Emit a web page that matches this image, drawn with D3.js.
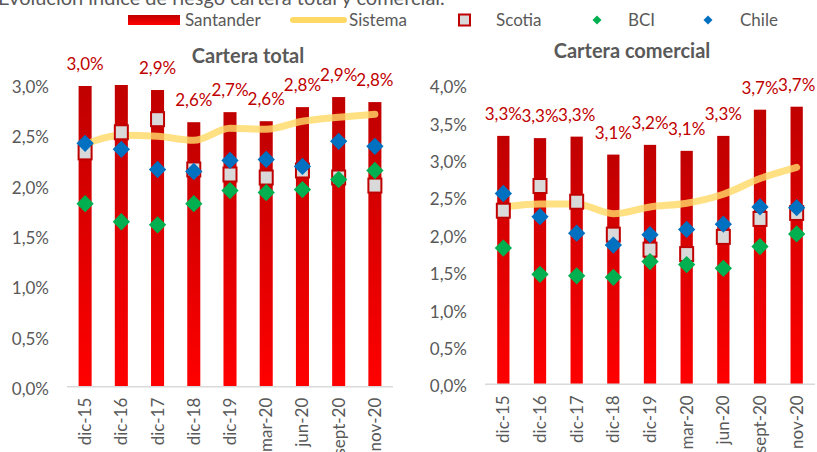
<!DOCTYPE html>
<html><head><meta charset="utf-8">
<script src="https://cdn.jsdelivr.net/npm/d3@7/dist/d3.min.js"></script>
<style>body{margin:0;background:#fff}svg{display:block}</style>
</head><body>
<svg id="c" width="817" height="452"></svg>
<script>
const categories = ["dic-15","dic-16","dic-17","dic-18","dic-19","mar-20","jun-20","sept-20","nov-20"];
// Cartera total (%)
const totalSantander = [2.99,3.00,2.95,2.63,2.73,2.64,2.78,2.88,2.83];
const totalSantanderLabels = ["3,0%","","2,9%","2,6%","2,7%","2,6%","2,8%","2,9%","2,8%"];
const totalSistema = [2.41,2.50,2.49,2.45,2.57,2.56,2.64,2.68,2.71];
const totalScotia = [2.33,2.53,2.66,2.16,2.11,2.08,2.15,2.08,2.00];
const totalBCI = [1.82,1.64,1.61,1.82,1.95,1.93,1.96,2.06,2.15];
const totalChile = [2.42,2.36,2.16,2.14,2.25,2.26,2.19,2.44,2.39];
const totalTicks = [0,0.5,1.0,1.5,2.0,2.5,3.0];
// Cartera comercial (%)
const comSantander = [3.32,3.29,3.31,3.07,3.20,3.12,3.32,3.67,3.71];
const comSantanderLabels = ["3,3%","3,3%","3,3%","3,1%","3,2%","3,1%","3,3%","3,7%","3,7%"];
const comSistema = [2.37,2.41,2.41,2.28,2.37,2.42,2.54,2.75,2.90];
const comScotia = [2.32,2.65,2.44,2.00,1.80,1.74,1.97,2.21,2.29];
const comBCI = [1.82,1.47,1.45,1.43,1.64,1.60,1.55,1.84,2.01];
const comChile = [2.55,2.24,2.02,1.86,2.00,2.07,2.14,2.37,2.36];
const comTicks = [0,0.5,1.0,1.5,2.0,2.5,3.0,3.5,4.0];

const FONT = "Lato, 'Open Sans', sans-serif";
const GREY = "#595959";
const svg = d3.select("#c").style("font-family", FONT);

const defs = svg.append("defs");
const g1 = defs.append("linearGradient").attr("id","barGrad").attr("x1",0).attr("y1",0).attr("x2",0).attr("y2",1);
g1.append("stop").attr("offset","0%").attr("stop-color","#C00000");
g1.append("stop").attr("offset","100%").attr("stop-color","#FF0000");

// page title (cut off at the top, as in the source)
svg.append("text").attr("x",-2).attr("y",5).attr("font-size",20).attr("fill",GREY)
  .text("Evolución índice de riesgo cartera total y comercial.");

// legend
const lg = svg.append("g").attr("font-size",17).attr("fill",GREY);
lg.append("rect").attr("x",128).attr("y",15).attr("width",52).attr("height",10).attr("fill","url(#barGrad)");
lg.append("text").attr("x",185).attr("y",20).attr("dy","0.35em").text("Santander");
lg.append("line").attr("x1",293).attr("x2",344).attr("y1",20).attr("y2",20)
  .attr("stroke","#FFD966").attr("stroke-width",6).attr("stroke-linecap","round");
lg.append("text").attr("x",349).attr("y",20).attr("dy","0.35em").text("Sistema");
lg.append("rect").attr("x",459).attr("y",14.5).attr("width",11).attr("height",11)
  .attr("fill","#D9D9D9").attr("stroke","#C00000").attr("stroke-width",2);
lg.append("text").attr("x",496).attr("y",20).attr("dy","0.35em").text("Scotia");
lg.append("path").attr("d",d3.symbol().type(d3.symbolSquare).size(40)()).attr("transform","translate(597,20) rotate(45)").attr("fill","#00B050");
lg.append("text").attr("x",628).attr("y",20).attr("dy","0.35em").text("BCI");
lg.append("path").attr("d",d3.symbol().type(d3.symbolSquare).size(40)()).attr("transform","translate(708,20) rotate(45)").attr("fill","#0070C0");
lg.append("text").attr("x",740).attr("y",20).attr("dy","0.35em").text("Chile");

function fmt(v){ return v.toFixed(1).replace(".",",") + "%"; }

function panel(opt){
  const x = d3.scaleBand().domain(categories).range(opt.xr).paddingInner(opt.pi).paddingOuter(opt.pi/2);
  const y = d3.scaleLinear().domain([0, opt.max]).range(opt.yr);
  const g = svg.append("g");
  const cx = d => x(d) + x.bandwidth()/2;

  // title
  g.append("text").attr("x",opt.titleX).attr("y",opt.titleY).attr("dy","0.35em")
    .attr("text-anchor","middle").attr("font-size",20).attr("font-weight","bold").attr("fill",GREY).text(opt.title);

  // y axis labels
  const ya = g.append("g").attr("transform",`translate(${opt.yLabelX},0)`)
    .call(d3.axisLeft(y).tickValues(opt.ticks).tickFormat(fmt).tickSize(0).tickPadding(0));
  ya.select(".domain").remove();
  ya.selectAll("text").attr("font-size",17).attr("fill",GREY).attr("font-family",FONT).attr("dy","0.45em");

  // bars
  g.selectAll("rect.bar").data(categories).join("rect").attr("class","bar")
    .attr("x", d => x(d)).attr("width", x.bandwidth())
    .attr("y", (d,i) => y(opt.santander[i])).attr("height", (d,i) => y(0) - y(opt.santander[i]))
    .attr("fill","url(#barGrad)");

  // x axis
  const xa = g.append("g").attr("transform",`translate(0,${y(0)})`)
    .call(d3.axisBottom(x).tickSize(0).tickPadding(0));
  xa.select(".domain").attr("stroke","#D9D9D9").attr("stroke-width",1.5)
    .attr("d",`M${opt.xr[0]},0H${opt.xr[1]}`);
  xa.selectAll("text").attr("font-size",17).attr("fill",GREY).attr("font-family",FONT)
    .attr("transform","rotate(-90)").attr("text-anchor","end").attr("x",-11).attr("y",0).attr("dy","0.35em");

  // bar labels
  g.selectAll("text.blab").data(categories).join("text").attr("class","blab")
    .attr("x", d => cx(d)).attr("y", (d,i) => y(opt.santander[i]) - 22).attr("dy","0.35em")
    .attr("text-anchor","middle").attr("font-size",17).attr("fill","#C00000")
    .text((d,i) => opt.labels[i]);

  // sistema line
  const line = d3.line().x((d,i) => cx(categories[i])).y(d => y(d)).curve(d3.curveMonotoneX);
  g.append("path").datum(opt.sistema).attr("d", line).attr("fill","none")
    .attr("stroke","#FFD966").attr("stroke-width",7).attr("stroke-linecap","round").attr("stroke-opacity",0.82);

  // scotia squares
  g.selectAll("rect.sc").data(opt.scotia).join("rect").attr("class","sc")
    .attr("x",(d,i) => cx(categories[i]) - 6.5).attr("y", d => y(d) - 7).attr("width",13).attr("height",14)
    .attr("fill","#D9D9D9").attr("stroke","#C00000").attr("stroke-width",2);

  // BCI and Chile diamonds
  const dpath = d3.symbol().type(d3.symbolSquare).size(150)();
  g.selectAll("path.bci").data(opt.bci).join("path").attr("class","bci").attr("d",dpath)
    .attr("transform",(d,i) => `translate(${cx(categories[i])},${y(d)}) rotate(45)`).attr("fill","#00B050");
  g.selectAll("path.ch").data(opt.chile).join("path").attr("class","ch").attr("d",dpath)
    .attr("transform",(d,i) => `translate(${cx(categories[i])},${y(d)}) rotate(45)`).attr("fill","#0070C0");
}

panel({xr:[67,393], pi:0.64, yr:[386.7,85], max:3, ticks: totalTicks, yLabelX:49,
  title:"Cartera total", titleX:248, titleY:56,
  santander: totalSantander, labels: totalSantanderLabels, sistema: totalSistema,
  scotia: totalScotia, bci: totalBCI, chile: totalChile});
panel({xr:[485,815], pi:0.665, yr:[384.3,85], max:4, ticks: comTicks, yLabelX:467,
  title:"Cartera comercial", titleX:632, titleY:51,
  santander: comSantander, labels: comSantanderLabels, sistema: comSistema,
  scotia: comScotia, bci: comBCI, chile: comChile});
</script>
</body></html>
